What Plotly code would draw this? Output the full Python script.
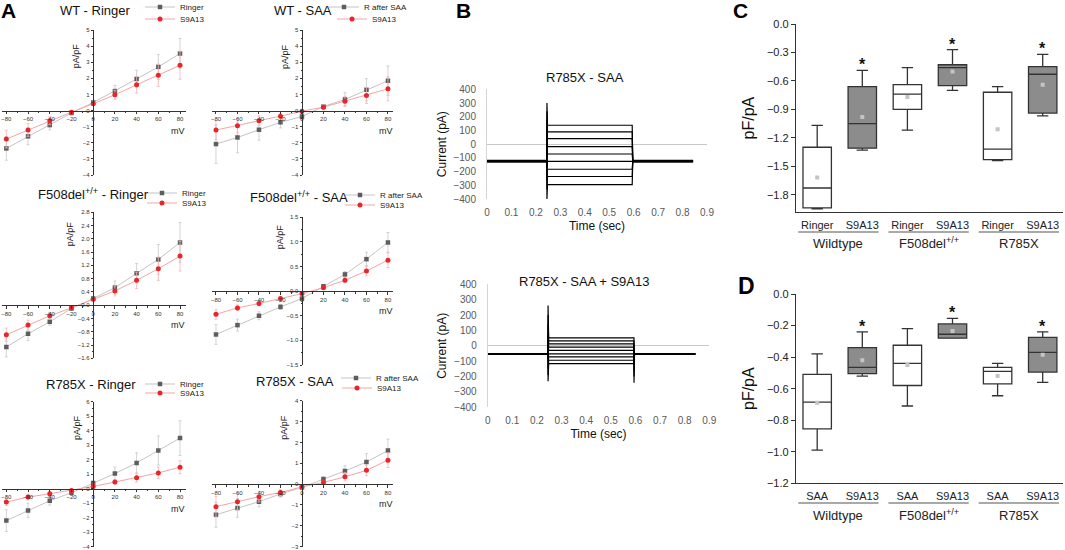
import plotly.graph_objects as go

W, H = 1065, 550

# ---------- panel A: I-V curves (pA/pF vs mV) ----------
mv = [-80, -60, -40, -20, 0, 20, 40, 60, 80]

wt_ringer = [-2.35, -1.6, -0.9, -0.15, 0.5, 1.21, 1.96, 2.71, 3.54]
wt_ringer_err = [0.73, 0.52, 0.3, 0.12, 0.1, 0.35, 0.54, 0.77, 0.94]
wt_ringer_s9 = [-1.77, -1.2, -0.63, -0.1, 0.42, 0.98, 1.6, 2.19, 2.81]
wt_ringer_s9_err = [0.55, 0.4, 0.25, 0.1, 0.1, 0.28, 0.52, 0.69, 0.87]

wt_saa = [-2.08, -1.67, -1.19, -0.73, -0.37, 0.25, 0.69, 1.29, 1.85]
wt_saa_err = [1.2, 0.95, 0.65, 0.35, 0.2, 0.1, 0.42, 0.69, 0.92]
wt_saa_s9 = [-1.21, -0.94, -0.63, -0.35, -0.04, 0.21, 0.58, 0.94, 1.35]
wt_saa_s9_err = [0.6, 0.45, 0.3, 0.15, 0.08, 0.15, 0.3, 0.5, 0.75]

f508_ringer = [-1.26, -0.86, -0.5, -0.1, 0.2, 0.53, 0.96, 1.38, 1.89]
f508_ringer_err = [0.3, 0.2, 0.1, 0.05, 0.05, 0.2, 0.3, 0.45, 0.6]
f508_ringer_s9 = [-0.89, -0.6, -0.32, -0.08, 0.18, 0.43, 0.75, 1.1, 1.48]
f508_ringer_s9_err = [0.2, 0.15, 0.1, 0.05, 0.05, 0.15, 0.25, 0.35, 0.45]

f508_saa = [-0.88, -0.69, -0.5, -0.32, -0.15, 0.1, 0.34, 0.65, 0.99]
f508_saa_err = [0.2, 0.12, 0.08, 0.05, 0.03, 0.03, 0.06, 0.14, 0.2]
f508_saa_s9 = [-0.47, -0.34, -0.25, -0.15, -0.05, 0.07, 0.22, 0.41, 0.63]
f508_saa_s9_err = [0.1, 0.06, 0.05, 0.04, 0.03, 0.02, 0.05, 0.1, 0.15]

r785_ringer = [-2.2, -1.5, -0.83, -0.28, 0.4, 1.04, 1.78, 2.63, 3.49]
r785_ringer_err = [0.75, 0.5, 0.3, 0.15, 0.1, 0.45, 0.7, 1.0, 1.2]
r785_ringer_s9 = [-0.92, -0.58, -0.35, -0.12, 0.16, 0.46, 0.76, 1.09, 1.48]
r785_ringer_s9_err = [0.25, 0.2, 0.12, 0.08, 0.05, 0.15, 0.3, 0.4, 0.45]

r785_saa = [-1.47, -1.14, -0.84, -0.47, -0.16, 0.24, 0.63, 1.06, 1.61]
r785_saa_err = [0.6, 0.45, 0.25, 0.15, 0.1, 0.1, 0.25, 0.4, 0.55]
r785_saa_s9 = [-1.08, -0.84, -0.6, -0.4, -0.13, 0.08, 0.35, 0.66, 1.15]
r785_saa_s9_err = [0.5, 0.4, 0.25, 0.15, 0.08, 0.08, 0.2, 0.25, 0.35]

# ---------- panel B: current traces ----------
t_pts = [0, 0.245, 0.2452, 0.2475, 0.594, 0.5942, 0.5962, 0.843]
saa_hold = [-118, -120, -122, -123, -124, -125, -127, -128, -130]
saa_level = [138, 90, 40, -18, -72, -126, -183, -236, -295]
saa_on_peak = [300, 240, 180, 110, 40, -170, -260, -330, -400]
s9_hold = [-50, -51, -52, -52, -53, -53, -54, -55, -55]
s9_level = [52, 32, 12, -8, -30, -52, -72, -94, -116]
s9_on_peak = [262, 200, 140, 80, 20, -90, -150, -190, -230]
s9_off_peak = [-240, -200, -160, -120, -85, -52, -40, -30, -20]

# ---------- panels C, D: box plots ----------
c_labels = ["Ringer", "S9A13"] * 3
d_labels = ["SAA", "S9A13"] * 3
groups = ["Wildtype", "F508del<sup>+/+</sup>", "R785X"]

c_low = [-1.95, -1.33, -1.12, -0.70, -1.44, -0.97]
c_q1 = [-1.94, -1.31, -0.90, -0.65, -1.43, -0.94]
c_med = [-1.73, -1.05, -0.74, -0.46, -1.32, -0.53]
c_q3 = [-1.30, -0.66, -0.64, -0.43, -0.72, -0.45]
c_high = [-1.07, -0.49, -0.46, -0.27, -0.66, -0.32]
c_mean = [-1.62, -0.98, -0.77, -0.50, -1.11, -0.64]

d_low = [-0.99, -0.52, -0.71, -0.28, -0.645, -0.56]
d_q1 = [-0.855, -0.505, -0.58, -0.28, -0.57, -0.495]
d_med = [-0.685, -0.465, -0.44, -0.255, -0.49, -0.37]
d_q3 = [-0.51, -0.34, -0.325, -0.19, -0.465, -0.275]
d_high = [-0.38, -0.24, -0.22, -0.155, -0.44, -0.24]
d_mean = [-0.69, -0.42, -0.45, -0.235, -0.52, -0.385]
starred = [1, 3, 5]

FONT = "Liberation Sans, Arial, sans-serif"


def xdom(a, b):
    return [a / W, b / W]


def ydom(top, bot):
    return [1 - bot / H, 1 - top / H]


def axkey(k, kind):
    return f"{kind}axis" if k == 1 else f"{kind}axis{k}"


def axref(k, kind):
    return kind if k == 1 else f"{kind}{k}"


def legkey(k):
    return "legend" if k == 1 else f"legend{k}"


def zero_pos(rng, dom):
    return dom[0] + (0 - rng[0]) / (rng[1] - rng[0]) * (dom[1] - dom[0])


fig = go.Figure()
layout = {}
annotations = []
shapes = []

col_px = [(2, 186), (212, 393)]
col_range = [[-84, 85.5], [-83.7, 84.7]]

iv_panels = [
    dict(title="WT - Ringer", ctrl="Ringer", g=wt_ringer, ge=wt_ringer_err, r=wt_ringer_s9, re=wt_ringer_s9_err,
         yr=[-4, 5], dt=1, fmt="d", col=0, py=(30, 175), tpos=(95, 10), leg=[(180, 7), (180, 19)], lab=(0.92, -17)),
    dict(title="WT - SAA", ctrl="R after SAA", g=wt_saa, ge=wt_saa_err, r=wt_saa_s9, re=wt_saa_s9_err,
         yr=[-4, 5], dt=1, fmt="d", col=1, py=(30, 175), tpos=(303, 10), leg=[(364, 7), (372, 19)], lab=(0.92, -17)),
    dict(title="F508del<sup>+/+</sup> - Ringer", ctrl="Ringer", g=f508_ringer, ge=f508_ringer_err, r=f508_ringer_s9,
         re=f508_ringer_s9_err, yr=[-1.6, 2.8], dt=0.4, fmt=".1f", col=0, py=(212.3, 358.3), tpos=(93, 194),
         leg=[(182, 193), (182, 203)], lab=(0.95, -23)),
    dict(title="F508del<sup>+/+</sup> - SAA", ctrl="R after SAA", g=f508_saa, ge=f508_saa_err, r=f508_saa_s9,
         re=f508_saa_s9_err, yr=[-1.5, 1.5], dt=0.5, fmt=".1f", col=1, py=(217.3, 365), tpos=(299, 197),
         leg=[(380, 195), (380, 205)], lab=(0.97, -22)),
    dict(title="R785X - Ringer", ctrl="Ringer", g=r785_ringer, ge=r785_ringer_err, r=r785_ringer_s9,
         re=r785_ringer_s9_err, yr=[-4, 6], dt=1, fmt="d", col=0, py=(401.7, 546.7), tpos=(91, 384),
         leg=[(180, 384), (180, 393)], lab=(0.92, -16)),
    dict(title="R785X - SAA", ctrl="R after SAA", g=r785_saa, ge=r785_saa_err, r=r785_saa_s9,
         re=r785_saa_s9_err, yr=[-3, 4], dt=1, fmt="d", col=1, py=(400.7, 546.7), tpos=(295, 381),
         leg=[(376, 378), (377, 388)], lab=(0.92, -18)),
]

for i, p in enumerate(iv_panels, start=1):
    xd = xdom(*col_px[p["col"]])
    yd = ydom(*p["py"])
    xr = col_range[p["col"]]
    xa, ya = axref(i, "x"), axref(i, "y")
    lg_g, lg_r = 2 * i - 1, 2 * i
    fig.add_trace(go.Scatter(
        x=mv, y=p["g"], mode="lines+markers", name=p["ctrl"], xaxis=xa, yaxis=ya, legend=legkey(lg_g),
        line=dict(color="#c4c4c4", width=1),
        marker=dict(symbol="square", size=4.5, color="#5e5e5e"),
        error_y=dict(type="data", array=p["ge"], color="#c8c8c8", thickness=0.8, width=1.5)))
    fig.add_trace(go.Scatter(
        x=mv, y=p["r"], mode="lines+markers", name="S9A13", xaxis=xa, yaxis=ya, legend=legkey(lg_r),
        line=dict(color="#f5a5a5", width=1),
        marker=dict(symbol="circle", size=5, color="#e8262a"),
        error_y=dict(type="data", array=p["re"], color="#f7b4b4", thickness=0.8, width=1.5)))
    layout[axkey(i, "x")] = dict(
        domain=xd, range=xr, anchor="free", position=zero_pos(p["yr"], yd), automargin=False,
        showline=True, linecolor="#333", linewidth=0.8, showgrid=False, zeroline=False,
        tick0=-80, dtick=20, ticks="outside", ticklen=2.5, tickwidth=0.7, tickcolor="#333",
        tickfont=dict(size=6, color="#333", family=FONT),
        minor=dict(dtick=10, ticks="outside", ticklen=1.5, tickcolor="#333"))
    layout[axkey(i, "y")] = dict(
        domain=yd, range=p["yr"], anchor="free", position=zero_pos(xr, xd), automargin=False,
        showline=True, linecolor="#333", linewidth=0.8, showgrid=False, zeroline=False,
        tick0=p["yr"][0], dtick=p["dt"], tickformat=p["fmt"], ticks="outside", ticklen=2.5, tickwidth=0.7,
        tickcolor="#333", tickfont=dict(size=6, color="#333", family=FONT),
        minor=dict(dtick=p["dt"] / 2, ticks="outside", ticklen=1.5, tickcolor="#333"))
    for k, (lx, ly) in zip((lg_g, lg_r), p["leg"]):
        layout[legkey(k)] = dict(x=(lx - 40) / W, y=1 - ly / H, xanchor="left", yanchor="middle",
                                 bgcolor="rgba(0,0,0,0)", font=dict(size=8, family=FONT, color="#222"),
                                 itemwidth=30, borderwidth=0)
    annotations.append(dict(text=p["title"], x=p["tpos"][0] / W, y=1 - p["tpos"][1] / H, xref="paper",
                            yref="paper", showarrow=False, xanchor="center", yanchor="middle",
                            font=dict(size=13, family=FONT, color="#111")))
    annotations.append(dict(text="pA/pF", x=0, xref=xa, y=p["lab"][0], yref=f"{ya} domain", xshift=p["lab"][1],
                            textangle=-90, showarrow=False, font=dict(size=9, family=FONT, color="#222")))
    annotations.append(dict(text="mV", x=78, xref=xa, y=0, yref=ya, yshift=-20, showarrow=False,
                            font=dict(size=9, family=FONT, color="#222")))

# ---------- panel B ----------
b_panels = [
    dict(k=7, title="R785X - SAA", hold=saa_hold, level=saa_level, on=saa_on_peak, off=saa_hold,
         px=(487, 707), py=(89.3, 199), tpos=(585, 77)),
    dict(k=8, title="R785X - SAA + S9A13", hold=s9_hold, level=s9_level, on=s9_on_peak, off=s9_off_peak,
         px=(487.7, 709.3), py=(284.3, 407.3), tpos=(584, 281)),
]
for b in b_panels:
    k = b["k"]
    for h, lv, on, off in zip(b["hold"], b["level"], b["on"], b["off"]):
        fig.add_trace(go.Scatter(
            x=t_pts, y=[h, h, on, lv, lv, off, h, h], mode="lines", showlegend=False,
            line=dict(color="#000", width=1.2), xaxis=axref(k, "x"), yaxis=axref(k, "y")))
    layout[axkey(k, "x")] = dict(
        domain=xdom(*b["px"]), range=[0, 0.9], anchor=axref(k, "y"), showline=False, showgrid=False,
        zeroline=False, tick0=0, dtick=0.1, ticks="", ticklabelstandoff=6, automargin=False,
        tickfont=dict(size=10, color="#595959", family=FONT),
        title=dict(text="Time (sec)", standoff=4, font=dict(size=12, color="#111", family=FONT)))
    layout[axkey(k, "y")] = dict(
        domain=ydom(*b["py"]), range=[-400, 400], anchor=axref(k, "x"), showline=True, linecolor="#d4d4d4",
        linewidth=1, showgrid=False, zeroline=True, zerolinecolor="#c8c8c8", zerolinewidth=1,
        tick0=-400, dtick=100, ticks="", ticklabelstandoff=8, automargin=False,
        tickfont=dict(size=10, color="#595959", family=FONT),
        title=dict(text="Current (pA)", standoff=4, font=dict(size=12, color="#111", family=FONT)))
    annotations.append(dict(text=b["title"], x=b["tpos"][0] / W, y=1 - b["tpos"][1] / H, xref="paper",
                            yref="paper", showarrow=False, xanchor="center", yanchor="middle",
                            font=dict(size=13, family=FONT, color="#111")))

# ---------- panels C and D ----------
box_panels = [
    dict(k=9, labels=c_labels, low=c_low, q1=c_q1, med=c_med, q3=c_q3, high=c_high, mean=c_mean,
         yr=[-1.985, 0], dt=0.3, py=(24, 212.2), ulin=232, glab=243),
    dict(k=10, labels=d_labels, low=d_low, q1=d_q1, med=d_med, q3=d_q3, high=d_high, mean=d_mean,
         yr=[-1.2, 0], dt=0.2, py=(294, 483.3), ulin=503, glab=515),
]
pos = list(range(6))
for bp in box_panels:
    k = bp["k"]
    xa, ya = axref(k, "x"), axref(k, "y")
    for j in pos:
        fig.add_trace(go.Box(
            x=[j], q1=[bp["q1"][j]], median=[bp["med"][j]], q3=[bp["q3"][j]],
            lowerfence=[bp["low"][j]], upperfence=[bp["high"][j]], width=0.63, whiskerwidth=0.4,
            fillcolor="#ffffff" if j % 2 == 0 else "#8c8c8c", line=dict(color="#333", width=1.3),
            boxpoints=False, showlegend=False, xaxis=xa, yaxis=ya, hoverinfo="skip"))
    fig.add_trace(go.Scatter(
        x=pos, y=bp["mean"], mode="markers", showlegend=False, xaxis=xa, yaxis=ya,
        marker=dict(symbol="square", size=4, color="#c4c4c4")))
    for j in starred:
        annotations.append(dict(text="<b>*</b>", x=j, xref=xa, y=bp["high"][j], yref=ya, yanchor="bottom",
                                yshift=-5, showarrow=False, font=dict(size=16, family=FONT, color="#111")))
    layout[axkey(k, "x")] = dict(
        domain=xdom(796, 1063), range=[-0.47, 5.45], anchor=ya, showline=True, linecolor="#333",
        linewidth=1.3, showgrid=False, zeroline=False, tickvals=pos, ticktext=bp["labels"], ticks="",
        ticklabelstandoff=2, automargin=False, tickfont=dict(size=11, color="#222", family=FONT))
    layout[axkey(k, "y")] = dict(
        domain=ydom(*bp["py"]), range=bp["yr"], anchor=xa, showline=True, linecolor="#333", linewidth=1.3,
        showgrid=False, zeroline=False, tick0=0, dtick=bp["dt"], tickformat=".1f", ticks="outside", ticklen=4,
        tickwidth=1.2, tickcolor="#333", tickfont=dict(size=11, color="#222", family=FONT), automargin=False,
        title=dict(text="pF/pA", standoff=8, font=dict(size=16, color="#111", family=FONT)))
    for g, name in enumerate(groups):
        shapes.append(dict(type="line", xref=xa, yref="paper", x0=2 * g - 0.42, x1=2 * g + 1.36,
                           y0=1 - bp["ulin"] / H, y1=1 - bp["ulin"] / H, line=dict(color="#555", width=1.2)))
        annotations.append(dict(text=name, x=2 * g + 0.47, xref=xa, y=1 - bp["glab"] / H, yref="paper",
                                showarrow=False, yanchor="middle", font=dict(size=13, family=FONT, color="#222")))

# panel letters
for letter, lx, ly, sz in [("A", 9, 10, 21), ("B", 463, 10, 21), ("C", 740, 10, 21), ("D", 746, 286, 23)]:
    annotations.append(dict(text=f"<b>{letter}</b>", x=lx / W, y=1 - ly / H, xref="paper", yref="paper",
                            showarrow=False, xanchor="center", yanchor="middle",
                            font=dict(size=sz, family=FONT, color="#000")))

fig.update_layout(
    template="none", width=W, height=H, margin=dict(l=0, r=0, t=0, b=0, autoexpand=False),
    paper_bgcolor="white", plot_bgcolor="white",
    font=dict(family=FONT), annotations=annotations, shapes=shapes, **layout)

# page body has a default 8px margin; drop it so the figure sits at the window corner
fig.write_html("out.html", config={"displayModeBar": False},
               post_script="document.body.style.margin='0';document.body.style.overflow='hidden';")
